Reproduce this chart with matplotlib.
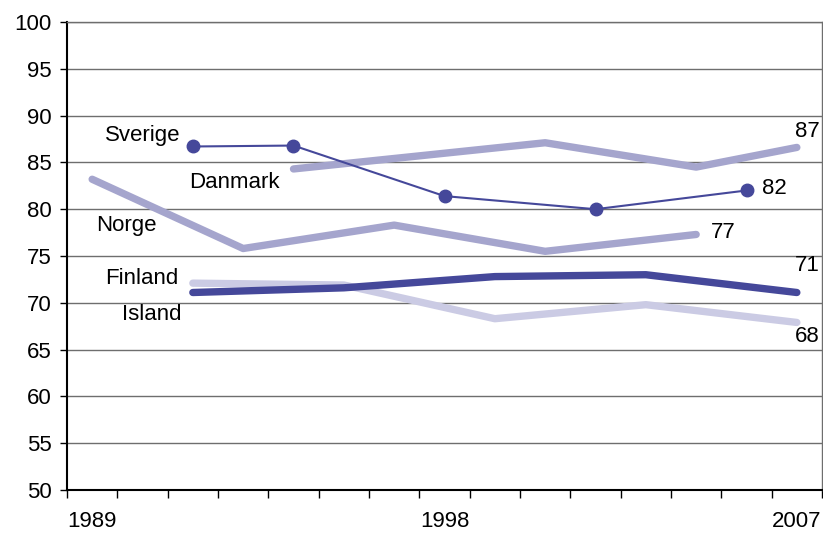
import matplotlib.pyplot as plt
import numpy as np

plt.rcParams['font.family'] = ['Liberation Sans', 'DejaVu Sans']

# category positions (15 slots, 1989 .. 2007)
tick_labels = ['1989', '1998', '2007']
tick_idx = [0, 7, 14]

sverige_x = [2, 4, 7, 10, 13]
sverige_y = [86.7, 86.8, 81.4, 80.0, 82.0]

danmark_x = [4, 9, 12, 14]
danmark_y = [84.3, 87.1, 84.5, 86.6]

norge_x = [0, 3, 6, 9, 12]
norge_y = [83.2, 75.8, 78.3, 75.5, 77.3]

finland_x = [2, 5, 8, 11, 14]
finland_y = [71.1, 71.6, 72.8, 73.0, 71.1]

island_x = [2, 5, 8, 11, 14]
island_y = [72.1, 71.9, 68.3, 69.8, 67.9]

dark = '#45489a'
mid = '#a5a5cd'
light = '#cbcbe4'

fig = plt.figure(figsize=(8.23, 5.34), dpi=100)
ax = fig.add_axes([0.0814, 0.0824, 0.9174, 0.8764])

ax.yaxis.grid(True, color='#6e6e6e', linewidth=1)
ax.set_axisbelow(True)

ax.plot(norge_x, norge_y, color=mid, linewidth=5.3, solid_capstyle='round')
ax.plot(danmark_x, danmark_y, color=mid, linewidth=5.3, solid_capstyle='round')
ax.plot(island_x, island_y, color=light, linewidth=5.3, solid_capstyle='round')
ax.plot(finland_x, finland_y, color=dark, linewidth=5.3, solid_capstyle='round')
ax.plot(sverige_x, sverige_y, color=dark, linewidth=1.5, marker='o', markersize=9)

fs = 16
ax.text(0.25, 87.9, 'Sverige', fontsize=fs, va='center')
ax.text(1.92, 82.9, 'Danmark', fontsize=fs, va='center')
ax.text(0.07, 78.3, 'Norge', fontsize=fs, va='center')
ax.text(0.25, 72.6, 'Finland', fontsize=fs, va='center')
ax.text(0.6, 68.8, 'Island', fontsize=fs, va='center')
ax.text(14.45, 88.3, '87', fontsize=fs, va='center', ha='right')
ax.text(13.3, 82.2, '82', fontsize=fs, va='center')
ax.text(12.3, 77.5, '77', fontsize=fs, va='center')
ax.text(14.45, 74.0, '71', fontsize=fs, va='center', ha='right')
ax.text(14.45, 66.4, '68', fontsize=fs, va='center', ha='right')

ax.set_xlim(-0.5, 14.5)
ax.set_ylim(50, 100)
ax.set_yticks(np.arange(50, 101, 5))
ax.set_xticks(tick_idx)
ax.set_xticklabels(tick_labels)
ax.set_xticks(np.arange(-0.5, 14.6, 1), minor=True)
ax.tick_params(axis='x', which='major', length=0, labelsize=fs, pad=15)
ax.tick_params(axis='x', which='minor', length=6, width=1, direction='out')
ax.tick_params(axis='y', length=5, width=1, labelsize=fs, pad=6)

for s in ['left', 'bottom']:
    ax.spines[s].set_color('black')
    ax.spines[s].set_linewidth(1.5)
for s in ['right', 'top']:
    ax.spines[s].set_color('#6e6e6e')
    ax.spines[s].set_linewidth(1)

fig.savefig('out.png', dpi=100)
